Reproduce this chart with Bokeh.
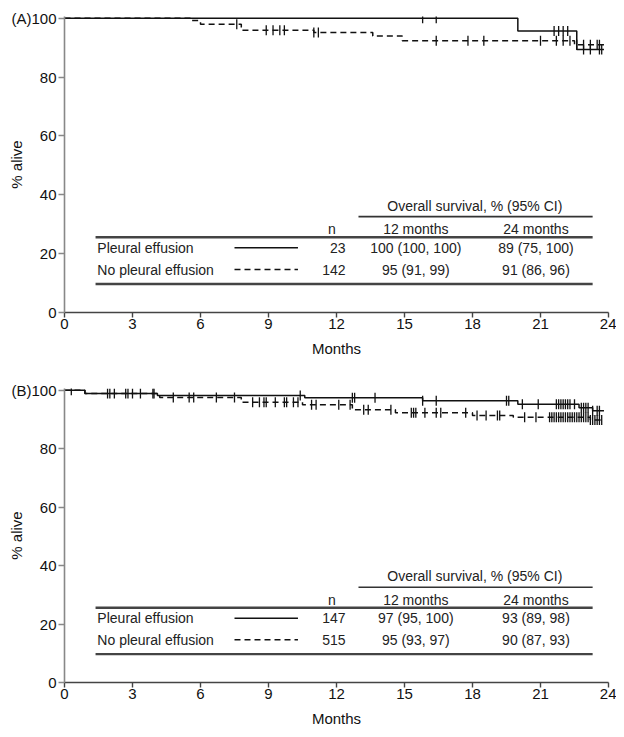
import numpy as np
from bokeh.plotting import figure
from bokeh.layouts import column
from bokeh.models import Range1d, FixedTicker
from bokeh.embed import file_html
from bokeh.resources import INLINE
from bokeh.core.properties import value

FONT = "Liberation Sans"

# ---------------- data ----------------
month_ticks = [0, 3, 6, 9, 12, 15, 18, 21, 24]
pct_ticks = [0, 20, 40, 60, 80, 100]

# Panel A: Kaplan-Meier step curves (step start times, survival %)
a_pe_times = [0, 20.0, 22.6]
a_pe_surv = [100, 95.7, 89.4]
a_pe_end = 23.8
a_pe_censor = [15.8, 16.4, 21.6, 21.8, 22.0, 22.2, 22.9, 23.2, 23.6, 23.7]

a_npe_times = [0, 5.6, 6.0, 7.8, 11.0, 13.6, 14.9, 22.5]
a_npe_surv = [100, 99.2, 98.0, 95.9, 95.2, 94.0, 92.4, 91.0]
a_npe_end = 23.8
a_npe_censor = [7.6, 8.9, 9.2, 9.5, 9.7, 11.0, 11.2, 16.4, 17.8, 18.5, 21.0,
                21.7, 22.0, 22.3, 22.6, 22.9, 23.2, 23.5, 23.6]

# Panel B
b_pe_times = [0, 0.9, 4.1, 10.6, 15.8, 20.0, 22.7, 23.3]
b_pe_surv = [100, 98.9, 98.2, 97.4, 96.4, 95.2, 94.0, 93.0]
b_pe_end = 23.8
b_pe_censor = [0.3, 1.9, 2.0, 2.2, 2.7, 2.8, 3.0, 3.35, 3.9, 3.95, 10.4, 12.7,
               12.8, 13.7, 15.8, 16.4, 19.5, 19.6, 20.2, 20.9, 21.7, 21.8, 21.9,
               22.0, 22.1, 22.2, 22.3, 22.5, 22.8, 22.9, 23.0, 23.1, 23.3, 23.5,
               23.6]

b_npe_times = [0, 0.9, 4.2, 7.8, 10.5, 12.7, 14.6, 18.0, 19.8, 23.2]
b_npe_surv = [100, 98.9, 97.5, 95.9, 95.0, 93.3, 92.3, 91.4, 90.8, 89.8]
b_npe_end = 23.8
b_npe_censor = [4.8, 5.5, 5.7, 6.7, 7.5, 8.3, 8.6, 8.8, 8.9, 9.3, 9.7, 9.8,
                10.1, 10.3, 10.9, 11.1, 12.1, 12.6, 13.2, 13.4, 14.4, 15.3,
                15.4, 15.5, 15.9, 16.4, 16.6, 17.7, 18.2, 18.6, 19.1, 19.2,
                20.3, 20.8, 21.4, 21.5, 21.6, 21.7, 21.8, 21.9, 22.0, 22.1,
                22.2, 22.3, 22.4, 22.5, 22.6, 22.7, 22.8, 22.9, 23.0, 23.1,
                23.2, 23.3, 23.4, 23.5, 23.6, 23.7]

# Tables
group_names = ["Pleural effusion", "No pleural effusion"]
a_n = ["23", "142"]
a_12m = ["100 (100, 100)", "95 (91, 99)"]
a_24m = ["89 (75, 100)", "91 (86, 96)"]
b_n = ["147", "515"]
b_12m = ["97 (95, 100)", "95 (93, 97)"]
b_24m = ["93 (89, 98)", "90 (87, 93)"]
table_header = "Overall survival, % (95% CI)"
col_headers = ["n", "12 months", "24 months"]


def level_at(times, surv, c):
    idx = np.searchsorted(np.array(times), c, side="right") - 1
    return float(surv[max(idx, 0)])


def build(panel_label, curves, n_vals, v12, v24, height, top, bottom):
    p = figure(width=616, height=height, output_backend="svg",
               toolbar_location=None, x_range=Range1d(0, 24),
               y_range=Range1d(0, 100.6), min_border_left=64,
               min_border_right=8, min_border_top=top,
               min_border_bottom=bottom)
    p.outline_line_color = None
    p.xgrid.visible = False
    p.ygrid.visible = False
    p.background_fill_color = "white"

    p.xaxis.ticker = FixedTicker(ticks=month_ticks)
    p.yaxis.ticker = FixedTicker(ticks=pct_ticks)
    p.yaxis.major_label_overrides = {100: panel_label + "100"}
    p.xaxis.axis_label = "Months"
    p.yaxis.axis_label = "% alive"
    for ax in (p.xaxis[0], p.yaxis[0]):
        ax.major_label_text_font = FONT
        ax.major_label_text_font_size = "15px"
        ax.major_label_text_color = "#111111"
        ax.axis_label_text_font = FONT
        ax.axis_label_text_font_size = "15px"
        ax.axis_label_text_font_style = "normal"
        ax.axis_label_text_color = "#111111"
        ax.minor_tick_line_color = None
        ax.major_tick_in = 0
        ax.axis_line_width = 1.6
        ax.major_tick_line_width = 1.4
    p.xaxis.major_tick_out = 5
    p.yaxis.major_tick_out = 6
    p.xaxis.major_label_standoff = 1
    p.yaxis.major_label_standoff = 2
    p.xaxis.axis_label_standoff = 8
    p.yaxis.axis_label_standoff = -17
    p.xaxis.axis_line_color = "#444444"
    p.xaxis.major_tick_line_color = "#444444"
    p.yaxis.axis_line_color = "#888888"
    p.yaxis.major_tick_line_color = "#888888"

    for times, surv, end, cens, dash in curves:
        xs = list(times) + [end]
        ys = list(surv) + [surv[-1]]
        p.step(xs, ys, mode="after", line_color="#111111", line_width=1.5,
               line_dash=dash)
        cy = [level_at(times, surv, c) for c in cens]
        p.scatter(cens, cy, marker="dash", angle=np.pi / 2, size=10,
                  line_color="#111111", line_width=1.3)

    # table
    tcolor = "#222222"
    p.text(x=[18.1], y=[36.3], text=[table_header], text_align="center",
           text_baseline="middle", text_font=value(FONT),
           text_font_size=value("14px"), text_color=tcolor)
    p.segment(x0=[12.97], y0=[32.6], x1=[23.3], y1=[32.6],
              line_color="#333333", line_width=1.6)
    p.text(x=[11.8, 15.5, 20.8], y=[28.3] * 3, text=col_headers,
           text_align="center", text_baseline="middle",
           text_font=value(FONT), text_font_size=value("14px"),
           text_color=tcolor)
    p.segment(x0=[1.37, 1.37], y0=[25.6, 9.7], x1=[23.3, 23.3],
              y1=[25.6, 9.7], line_color="#444444", line_width=2.4)
    row_y = [22.0, 14.6]
    p.text(x=[1.45] * 2, y=row_y, text=group_names, text_align="left",
           text_baseline="middle", text_font=value(FONT),
           text_font_size=value("14px"), text_color=tcolor)
    p.text(x=[12.4] * 2, y=row_y, text=n_vals, text_align="right",
           text_baseline="middle", text_font=value(FONT),
           text_font_size=value("14px"), text_color=tcolor)
    p.text(x=[15.5] * 2, y=row_y, text=v12, text_align="center",
           text_baseline="middle", text_font=value(FONT),
           text_font_size=value("14px"), text_color=tcolor)
    p.text(x=[20.8] * 2, y=row_y, text=v24, text_align="center",
           text_baseline="middle", text_font=value(FONT),
           text_font_size=value("14px"), text_color=tcolor)
    p.line([7.5, 10.3], [row_y[0]] * 2, line_color="#111111", line_width=1.5)
    p.line([7.5, 10.3], [row_y[1]] * 2, line_color="#111111", line_width=1.5,
           line_dash="6 4")
    return p


pa = build("(A)",
           [(a_pe_times, a_pe_surv, a_pe_end, a_pe_censor, "solid"),
            (a_npe_times, a_npe_surv, a_npe_end, a_npe_censor, "6 4")],
           a_n, a_12m, a_24m, 376, 16, 64)
pb = build("(B)",
           [(b_pe_times, b_pe_surv, b_pe_end, b_pe_censor, "solid"),
            (b_npe_times, b_npe_surv, b_npe_end, b_npe_censor, "6 4")],
           b_n, b_12m, b_24m, 353, 12, 45)

layout = column(pa, pb, spacing=0)
open("out.html", "w").write(file_html(layout, INLINE))
